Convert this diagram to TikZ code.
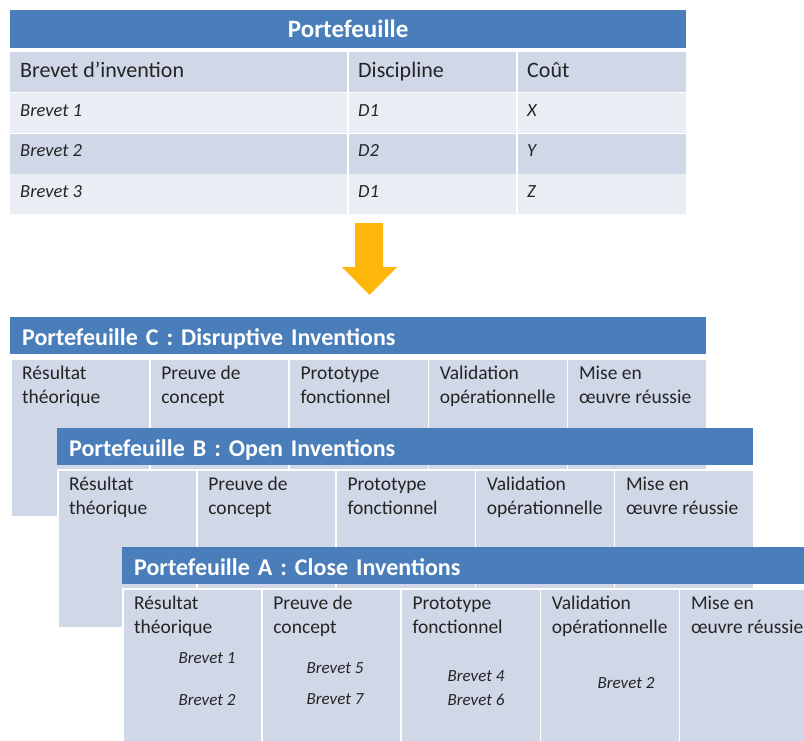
\documentclass[tikz,border=0pt]{standalone}
\usepackage{fontspec}
\setmainfont{Carlito}
\usetikzlibrary{positioning}

\definecolor{bleutitre}{RGB}{74,126,187}
\definecolor{bleucase}{RGB}{208,216,232}
\definecolor{bleuclair}{RGB}{233,237,244}
\definecolor{orangefleche}{RGB}{255,182,10}
\definecolor{texte}{RGB}{36,36,36}

\tikzset{
  entete/.style={fill=bleutitre, text=white, anchor=north west, inner sep=0pt,
    minimum width=676pt, minimum height=38pt, text height=16pt, text depth=0pt,
    font=\fontsize{25}{29}\selectfont\bfseries},
  ligne/.style={anchor=north west, inner sep=0pt, minimum width=676pt, minimum height=40.25pt},
  colonne/.style={anchor=base west, inner sep=0pt, text=texte, font=\fontsize{22}{26}\selectfont},
  donnee/.style={colonne, font=\fontsize{18.5}{22}\selectfont\itshape},
  separe/.style={white, line width=2pt},
  titre/.style={fill=bleutitre, text=white, anchor=north west, inner xsep=12pt, inner ysep=0pt,
    text width=672pt, align=left, minimum height=37pt, text height=19pt, text depth=0pt,
    font=\fontsize{24}{28}\selectfont\bfseries},
  case/.style={fill=bleucase, draw=white, line width=1.5pt, anchor=north west, inner sep=0pt,
    minimum width=139.2pt, minimum height=158pt},
  etape/.style={anchor=base west, inner sep=0pt, align=left, text=texte,
    font=\fontsize{19.5}{24}\selectfont},
  brevet/.style={inner sep=0pt, text=texte, font=\fontsize{17}{20}\selectfont\itshape}
}

\newcommand{\portefeuille}[4]{%
  \node[titre] (t#1) at (#2,-#3) {#4};
  \foreach \i/\l/\m in {1/Résultat/théorique, 2/Preuve de/concept, 3/Prototype/fonctionnel,
      4/Validation/opérationnelle, 5/Mise en/œuvre réussie}{
    \node[case] (#1c\i) at ([xshift=\i*139.2pt-139.2pt, yshift=-4pt]t#1.south west) {};
    \node[etape] (#1e\i) at ([xshift=12pt, yshift=-45pt]#1c\i.north west) {\l\\\m};
  }
}

\begin{document}
\begin{tikzpicture}[x=1pt, y=1pt]
\clip (0,0) rectangle (804,-740);

\node[entete] (portefeuille) at (10,-10) {Portefeuille};
\node[ligne, fill=bleucase] (l0) at (10,-52) {};
\node[ligne, fill=bleuclair, below=0pt of l0] (l1) {};
\node[ligne, fill=bleucase, below=0pt of l1] (l2) {};
\node[ligne, fill=bleuclair, below=0pt of l2] (l3) {};

\draw[separe] ([xshift=338pt]l0.north west) -- ([xshift=338pt]l3.south west);
\draw[separe] ([xshift=507pt]l0.north west) -- ([xshift=507pt]l3.south west);

\node[colonne] (hb) at ([xshift=10pt, yshift=-25pt]l0.north west) {Brevet d’invention};
\node[colonne] (hd) at ([xshift=348pt, yshift=-25pt]l0.north west) {Discipline};
\node[colonne] (hc) at ([xshift=517pt, yshift=-25pt]l0.north west) {Coût};

\node[donnee] (b1) at ([xshift=10pt, yshift=-23.5pt]l1.north west) {Brevet 1};
\node[donnee] (d1) at ([xshift=348pt, yshift=-23.5pt]l1.north west) {D1};
\node[donnee] (c1) at ([xshift=517pt, yshift=-23.5pt]l1.north west) {X};
\node[donnee] (b2) at ([xshift=10pt, yshift=-23.5pt]l2.north west) {Brevet 2};
\node[donnee] (d2) at ([xshift=348pt, yshift=-23.5pt]l2.north west) {D2};
\node[donnee] (c2) at ([xshift=517pt, yshift=-23.5pt]l2.north west) {Y};
\node[donnee] (b3) at ([xshift=10pt, yshift=-23.5pt]l3.north west) {Brevet 3};
\node[donnee] (d3) at ([xshift=348pt, yshift=-23.5pt]l3.north west) {D1};
\node[donnee] (c3) at ([xshift=517pt, yshift=-23.5pt]l3.north west) {Z};

\fill[orangefleche] (355,-223) -- (383,-223) -- (383,-267) -- (397,-267)
    -- (369.5,-295) -- (342,-267) -- (355,-267) -- cycle;

\portefeuille{C}{10}{317}{Portefeuille C : Disruptive Inventions}
\portefeuille{B}{57}{428}{Portefeuille B : Open Inventions}
\portefeuille{A}{122}{547}{Portefeuille A : Close Inventions}

\node[brevet] (a1) at (207,-658) {Brevet 1};
\node[brevet] (a2) at (207,-700) {Brevet 2};
\node[brevet] (a5) at (335,-668) {Brevet 5};
\node[brevet] (a7) at (335,-699) {Brevet 7};
\node[brevet] (a4) at (476,-676) {Brevet 4};
\node[brevet] (a6) at (476,-700) {Brevet 6};
\node[brevet] (v2) at (626,-683) {Brevet 2};
\end{tikzpicture}
\end{document}
